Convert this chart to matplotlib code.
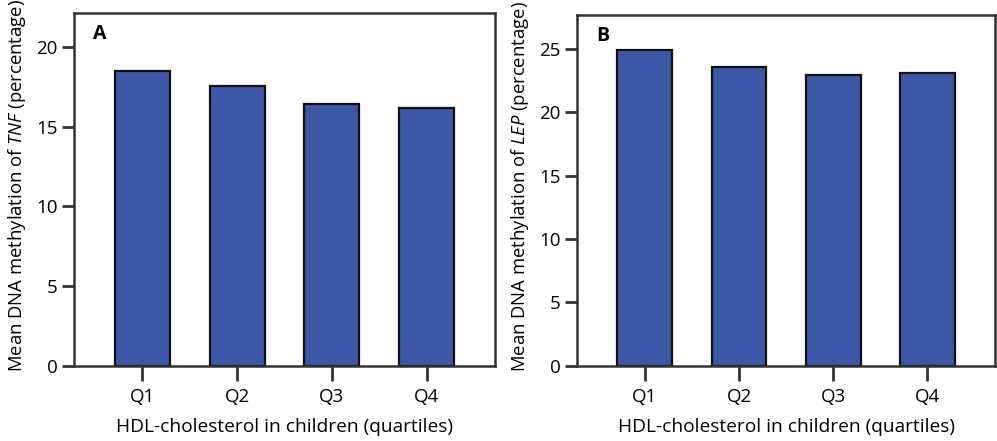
import matplotlib.pyplot as plt
import numpy as np

plt.rcParams['font.family'] = ['Open Sans', 'DejaVu Sans']
plt.rcParams['mathtext.fontset'] = 'custom'
plt.rcParams['mathtext.it'] = 'Open Sans:italic'
plt.rcParams['mathtext.rm'] = 'Open Sans'

quartiles = ["Q1", "Q2", "Q3", "Q4"]
tnf_values = [18.5, 17.55, 16.45, 16.15]
lep_values = [24.9, 23.6, 22.95, 23.15]

bar_color = "#3C57A5"
spine_color = "#333333"


def draw_panel(ax, values, ylim, yticks, gene, letter):
    x = np.arange(len(quartiles))
    ax.bar(x, values, width=0.58, color=bar_color, edgecolor="#111111", linewidth=1.6, zorder=2)
    ax.set_xlim(-0.72, 3.72)
    ax.set_ylim(0, ylim)
    ax.set_yticks(yticks)
    ax.set_xticks(x, quartiles)
    for side in ["left", "right", "top", "bottom"]:
        ax.spines[side].set_color(spine_color)
        ax.spines[side].set_linewidth(1.8)
    ax.tick_params(axis='y', direction='out', length=9, width=2, color=spine_color,
                   labelsize=13.5, pad=3)
    ax.tick_params(axis='x', direction='out', length=11, width=2, color=spine_color,
                   labelsize=13.5, pad=5)
    ax.set_xlabel("HDL-cholesterol in children (quartiles)", fontsize=13.8, labelpad=9)
    ax.set_ylabel("Mean DNA methylation of $\\it{" + gene + "}$ (percentage)", fontsize=13.3)
    ax.yaxis.set_label_coords(-0.11, 0.51)
    ax.text(0.045, 0.97, letter, transform=ax.transAxes, fontsize=14, fontweight='bold',
            ha='left', va='top')


def main():
    fig = plt.figure(figsize=(9.97, 4.41), dpi=100)
    ax1 = fig.add_axes([0.0742, 0.1707, 0.4223, 0.800])
    ax2 = fig.add_axes([0.5787, 0.1712, 0.4195, 0.7948])

    draw_panel(ax1, tnf_values, 22.15, [0, 5, 10, 15, 20], "TNF", "A")
    draw_panel(ax2, lep_values, 27.7, [0, 5, 10, 15, 20, 25], "LEP", "B")

    fig.savefig("out.png", dpi=100)


if __name__ == "__main__":
    main()
